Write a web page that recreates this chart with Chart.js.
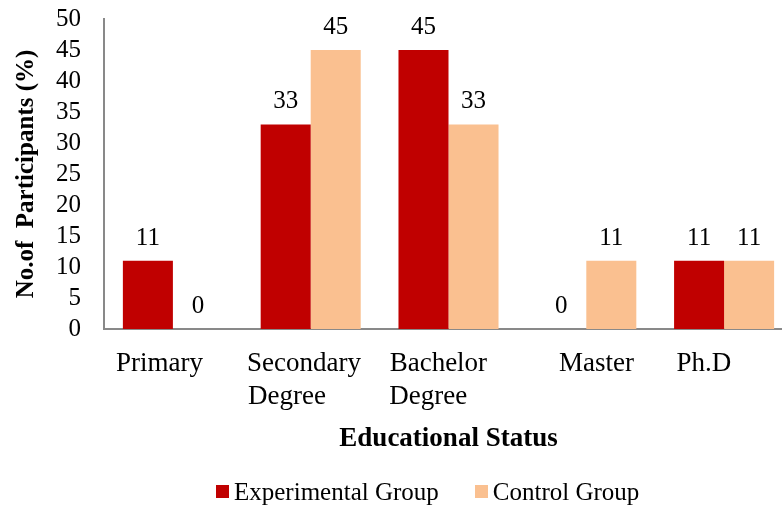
<!DOCTYPE html>
<html>
<head>
<meta charset="utf-8">
<script src="https://cdn.jsdelivr.net/npm/chart.js@4.4.1/dist/chart.umd.min.js"></script>
<style>
  html, body { margin: 0; padding: 0; background: #fff; overflow: hidden; }
  #wrap { position: relative; width: 795px; height: 508px; }
  #legend {
    position: absolute; left: 216px; top: 479px;
    display: flex; align-items: center;
    font: 25px 'Liberation Serif', 'Times New Roman', serif; line-height: 25px; color: #000;
  }
  #legend .item { display: flex; align-items: center; margin-right: 36px; white-space: pre; }
  #legend .sw { width: 13px; height: 13px; margin-right: 5px; }
</style>
</head>
<body>
<div id="wrap">
  <canvas id="chart" width="795" height="508"></canvas>
  <div id="legend"></div>
</div>
<script>
  // categories (spaces keep the label placement of the original sheet)
  const categories = [
    'Primary    ',
    ['Secondary  ', 'Degree       '],
    ['Bachelor   ', 'Degree      '],
    '   Master',
    'Ph.D      ',
  ];
  const seriesNames = ['Experimental Group', 'Control Group'];
  const seriesColors = ['#C00000', '#FAC090'];
  const experimental = [11, 33, 45, 0, 11];
  const control = [0, 45, 33, 11, 11];
  const yTicks = { min: 0, max: 50, step: 5 };

  const SERIF = "'Liberation Serif', 'Times New Roman', serif";
  const AXIS = '#898989';

  // value labels above each bar
  const valueLabels = {
    id: 'valueLabels',
    afterDatasetsDraw(chart) {
      const ctx = chart.ctx;
      ctx.save();
      ctx.font = '25px ' + SERIF;
      ctx.fillStyle = '#000';
      ctx.textAlign = 'center';
      ctx.textBaseline = 'alphabetic';
      chart.data.datasets.forEach((ds, di) => {
        chart.getDatasetMeta(di).data.forEach((el, i) => {
          ctx.fillText(String(ds.data[i]), el.x, el.y - 16);
        });
      });
      ctx.restore();
    },
  };

  const seriesData = [experimental, control];
  const datasets = seriesNames.map((name, i) => ({
    label: name,
    data: seriesData[i],
    backgroundColor: seriesColors[i],
    borderWidth: 0,
    barPercentage: 1,
    categoryPercentage: 0.726,
  }));

  new Chart(document.getElementById('chart'), {
    type: 'bar',
    data: { labels: categories, datasets },
    options: {
      responsive: false,
      animation: false,
      layout: { padding: { top: 19, right: 2, bottom: 49, left: 0 } },
      plugins: { legend: { display: false }, tooltip: { enabled: false } },
      scales: {
        x: {
          grid: { display: false, drawTicks: false },
          border: { color: AXIS, width: 2 },
          ticks: { color: '#000', padding: 19, maxRotation: 0, autoSkip: false, font: { family: SERIF, size: 27, lineHeight: 1.2 } },
          title: { display: true, text: 'Educational Status', color: '#000', padding: { top: 0, bottom: 4 }, font: { family: SERIF, size: 27, weight: 'bold' } },
          afterFit: (s) => { s.height = 130; },
        },
        y: {
          min: yTicks.min, max: yTicks.max,
          grid: { display: false, drawTicks: false },
          border: { color: AXIS, width: 2 },
          ticks: { stepSize: yTicks.step, autoSkip: false, color: '#000', padding: 23, font: { family: SERIF, size: 25 } },
          title: { display: true, text: 'No.of  Participants (%)', color: '#000', padding: { top: 12, bottom: 0 }, font: { family: SERIF, size: 25, weight: 'bold' } },
          afterFit: (s) => { s.width = 104; s.paddingTop = 15; s.paddingBottom = 15; },
        },
      },
    },
    plugins: [valueLabels],
  });

  // legend row
  document.getElementById('legend').innerHTML = seriesNames.map((n, i) =>
    '<div class="item"><span class="sw" style="background:' + seriesColors[i] + '"></span>' + n + '</div>'
  ).join('');
</script>
</body>
</html>
